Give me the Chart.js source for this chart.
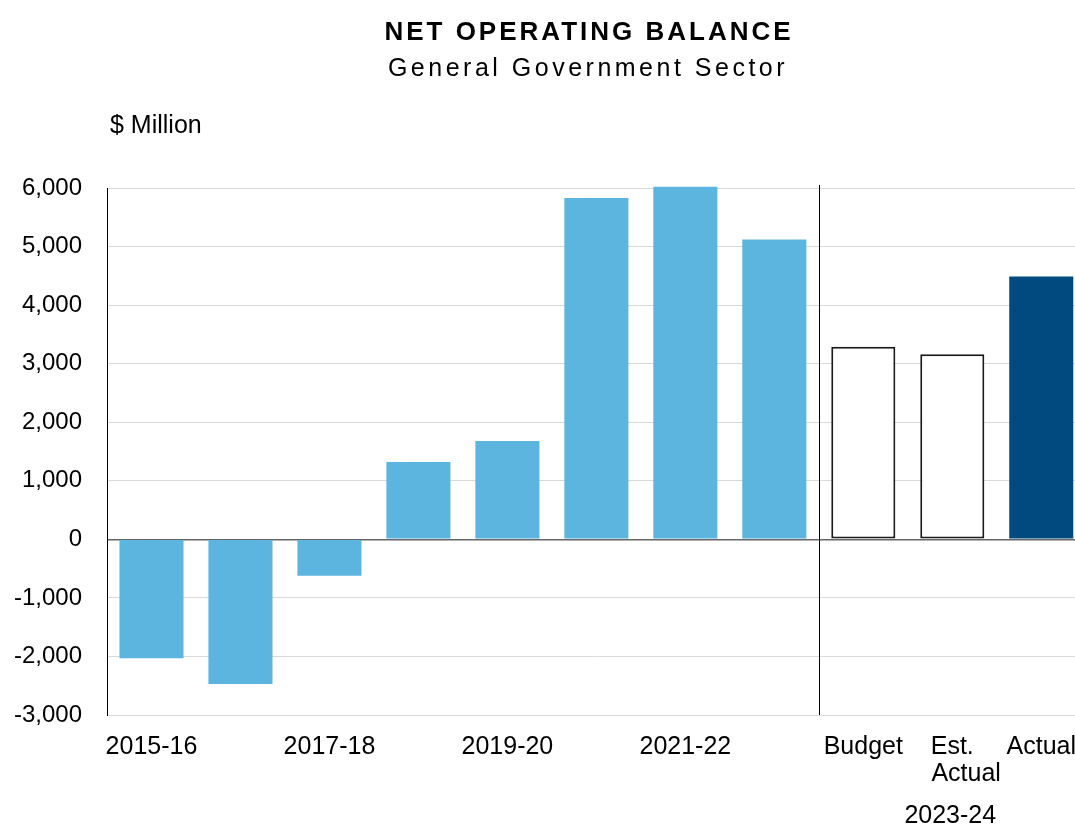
<!DOCTYPE html>
<html>
<head>
<meta charset="utf-8">
<script src="https://cdn.jsdelivr.net/npm/chart.js@4.4.1/dist/chart.umd.min.js"></script>
<style>
  html, body { margin: 0; padding: 0; background: #fff; overflow: hidden; }
  #wrap { width: 1094px; height: 828px; }
</style>
</head>
<body>
<div id="wrap"><canvas id="myChart" width="1094" height="828"></canvas></div>
<script>
// --------------- data -----------------------
const categories = ['2015-16', '2016-17', '2017-18', '2018-19', '2019-20', '2020-21',
                    '2021-22', '2022-23', 'Budget', 'Est. Actual', 'Actual'];
const balance = [-2030, -2470, -620, 1320, 1680, 5830, 6020, 5120, 3290, 3160, 4490];
const yTicks = [-3000, -2000, -1000, 0, 1000, 2000, 3000, 4000, 5000, 6000];
const historyCount = 8;
const groupLabel = '2023-24';

const FONT = '"Liberation Sans", Arial, sans-serif';

// --------------- colours per bar -----------------------
const fill = categories.map((c, i) => i < historyCount ? '#5BB5DF' : (c === 'Actual' ? '#004A80' : '#ffffff'));
const border = categories.map((c, i) => (i >= historyCount && c !== 'Actual') ? '#1a1a1a' : 'rgba(0,0,0,0)');
const borderW = categories.map((c, i) => (i >= historyCount && c !== 'Actual') ? 2 : 0);

// --------------- titles, separator, group label -----------------------
const extras = {
    id: 'extras',
    afterDraw(chart) {
        const ctx = chart.ctx;
        const x = chart.scales.x;
        const area = chart.chartArea;
        ctx.save();
        ctx.fillStyle = '#000';
        ctx.textAlign = 'center';
        ctx.textBaseline = 'alphabetic';

        ctx.font = 'bold 26px ' + FONT;
        ctx.letterSpacing = '3px';
        ctx.fillText('NET OPERATING BALANCE', 589, 40);

        ctx.font = '25px ' + FONT;
        ctx.letterSpacing = '3.5px';
        ctx.fillText('General Government Sector', 588, 76);

        ctx.letterSpacing = '0px';
        ctx.textAlign = 'left';
        ctx.font = '25px ' + FONT;
        ctx.fillText('$ Million', 110, 133);

        // group label under the 2023-24 bars
        ctx.textAlign = 'center';
        ctx.fillText(groupLabel, x.getPixelForValue(historyCount + 1) - 2, 823);

        // vertical separator between history and 2023-24
        const sx = Math.round((x.getPixelForValue(historyCount - 1) + x.getPixelForValue(historyCount)) / 2) + 0.5;
        ctx.strokeStyle = '#000';
        ctx.lineWidth = 1;
        ctx.beginPath();
        ctx.moveTo(sx, area.top - 3);
        ctx.lineTo(sx, area.bottom);
        ctx.stroke();
        ctx.restore();
    }
};

const ctx = document.getElementById('myChart').getContext('2d');
const myChart = new Chart(ctx, {
    type: 'bar',
    data: {
        labels: categories,
        datasets: [{
            data: balance,
            backgroundColor: fill,
            borderColor: border,
            borderWidth: borderW,
            borderSkipped: false,
            barPercentage: 0.72,
            categoryPercentage: 1.0,
            clip: false
        }]
    },
    options: {
        responsive: false,
        animation: false,
        layout: { padding: { top: 188, left: 0, right: 0, bottom: 0 } },
        plugins: {
            legend: { display: false },
            tooltip: { enabled: false }
        },
        scales: {
            x: {
                grid: { display: false, drawTicks: false },
                border: { display: false },
                ticks: {
                    autoSkip: false,
                    maxRotation: 0,
                    padding: 18,
                    color: '#000',
                    font: { family: FONT, size: 25, lineHeight: 1.1 },
                    callback: function(value, index) {
                        if (index < historyCount) {
                            return index % 2 === 0 ? categories[index] : '';
                        }
                        if (categories[index] === 'Est. Actual') {
                            return ['    Est.    ', '    Actual'];
                        }
                        return categories[index];
                    }
                },
                afterFit: function(scale) { scale.height = 113; }
            },
            y: {
                min: yTicks[0],
                max: yTicks[yTicks.length - 1],
                afterBuildTicks: function(scale) {
                    scale.ticks = yTicks.map(v => ({ value: v }));
                },
                grid: {
                    drawTicks: false,
                    color: c => c.tick && c.tick.value === 0 ? '#666666' : '#d9d9d9',
                    lineWidth: c => c.tick && c.tick.value === 0 ? 1.5 : 1
                },
                border: { display: true, color: '#000', width: 1 },
                ticks: {
                    padding: 25,
                    color: '#000',
                    font: { family: FONT, size: 24 },
                    callback: v => v.toLocaleString('en-US')
                },
                afterFit: function(scale) { scale.width = 107; }
            }
        }
    },
    plugins: [extras]
});
</script>
</body>
</html>
